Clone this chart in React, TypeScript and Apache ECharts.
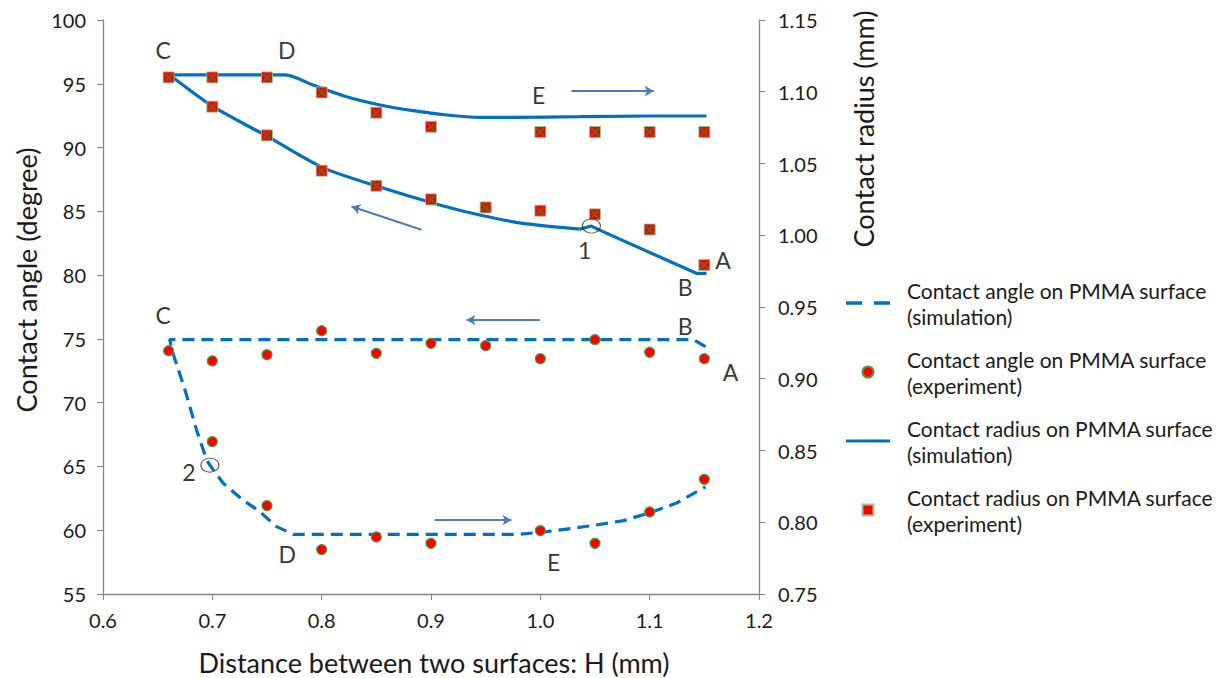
import React, { useEffect, useRef } from 'react';
import * as echarts from 'echarts';

const FONT = 'Lato, "Open Sans", sans-serif';
const SERIES_BLUE = '#0070C0';
const ARROW_BLUE = '#4A7EBB';
const TEXT_COLOR = '#1a1a1a';
const AXIS_GRAY = '#868686';

// Axis ranges / ticks
const X_MIN = 0.6, X_MAX = 1.2, X_STEP = 0.1;
const ANGLE_MIN = 55, ANGLE_MAX = 100, ANGLE_STEP = 5;
const RADIUS_MIN = 0.75, RADIUS_MAX = 1.15, RADIUS_STEP = 0.05;

// Series names (legend)
const NAME_ANGLE_SIM = 'Contact angle on PMMA surface (simulation)';
const NAME_ANGLE_EXP = 'Contact angle on PMMA surface (experiment)';
const NAME_RADIUS_SIM = 'Contact radius on PMMA surface (simulation)';
const NAME_RADIUS_EXP = 'Contact radius on PMMA surface (experiment)';

// Contact angle simulation path: A -> B -> C -> 2 -> D -> E -> end (degree)
const angleSim: number[][] = [
  [1.151, 74.39], [1.14, 74.95], [0.661, 74.95], [0.664, 73.87], [0.675, 71.0],
  [0.6856, 67.86], [0.6948, 65.51], [0.6978, 65.1], [0.71, 63.68], [0.728, 62.37],
  [0.7435, 61.45], [0.7588, 60.28], [0.774, 59.68], [0.981, 59.68], [1.006, 59.89],
  [1.03, 60.15], [1.051, 60.41], [1.076, 60.75], [1.103, 61.45], [1.124, 62.11],
  [1.146, 63.15], [1.151, 63.4],
];

// Contact angle experiment (degree)
const angleExpReceding: number[][] = [
  [0.66, 74.07], [0.70, 73.27], [0.75, 73.76], [0.80, 75.64], [0.85, 73.87], [0.90, 74.65],
  [0.95, 74.47], [1.00, 73.45], [1.05, 74.94], [1.10, 73.95], [1.15, 73.45],
];
const angleExpAdvancing: number[][] = [
  [0.70, 66.94], [0.75, 61.93], [0.80, 58.48], [0.85, 59.47], [0.90, 58.97],
  [1.00, 59.97], [1.05, 58.97], [1.10, 61.43], [1.15, 63.99],
];

// Contact radius simulation, straight part: A -> B -> 1 (mm)
const radiusSimAB1: number[][] = [
  [1.152, 0.9735], [1.1427, 0.9735], [1.0573, 1.0025], [1.0467, 1.0064], [1.036, 1.0043],
];
// Contact radius simulation, receding curve: 1 -> C (mm)
const radiusSimReceding: number[][] = [
  [1.036, 1.0043], [0.9842, 1.0083], [0.9446, 1.0141], [0.908, 1.0211], [0.8502, 1.0343],
  [0.7999, 1.0475], [0.7496, 1.0692], [0.7008, 1.0896], [0.661, 1.1117],
];
// Contact radius simulation, advancing branch: C -> D -> E -> end (mm)
const radiusSimAdvancing: number[][] = [
  [0.661, 1.1117], [0.767, 1.1117],
  [0.7922, 1.1047], [0.8228, 1.0965], [0.8532, 1.0908], [0.8836, 1.0868], [0.9142, 1.0838],
  [0.9446, 1.0822], [0.975, 1.0822], [1.036, 1.0826], [1.097, 1.0831], [1.152, 1.0831],
];

// Contact radius experiment (mm)
const radiusExpAdvancing: number[][] = [
  [0.66, 1.110], [0.70, 1.110], [0.75, 1.110], [0.80, 1.0995], [0.85, 1.0854],
  [0.90, 1.0756], [1.00, 1.0720], [1.05, 1.0720], [1.10, 1.0720], [1.15, 1.0720],
];
const radiusExpReceding: number[][] = [
  [0.70, 1.0896], [0.75, 1.0696], [0.80, 1.045], [0.85, 1.0345], [0.90, 1.025],
  [0.95, 1.0194], [1.00, 1.0171], [1.05, 1.0146], [1.10, 1.004], [1.15, 0.9793],
];

// Annotation letters (in angle-axis coordinates)
const annotations: { name: string; value: number[] }[] = [
  { name: 'C', value: [0.655, 97.65] },
  { name: 'D', value: [0.768, 97.65] },
  { name: 'E', value: [0.9985, 94.12] },
  { name: '1', value: [1.0406, 81.97] },
  { name: 'A', value: [1.167, 81.19] },
  { name: 'B', value: [1.1326, 79.05] },
  { name: 'C', value: [0.655, 76.87] },
  { name: 'B', value: [1.1326, 76.01] },
  { name: 'A', value: [1.174, 72.4] },
  { name: '2', value: [0.6786, 64.54] },
  { name: 'D', value: [0.7685, 58.14] },
  { name: 'E', value: [1.0122, 57.53] },
];

// Marked points 1 and 2 (angle-axis coordinates)
const markedPoints: number[][] = [[1.0467, 83.85], [0.6978, 65.1]];

// Direction arrows: [from, to] in angle-axis coordinates
const arrows: number[][][] = [
  [[1.0284, 94.43], [1.1037, 94.43]],
  [[0.8913, 83.56], [0.8273, 85.38]],
  [[0.9995, 76.48], [0.9324, 76.48]],
  [[0.9035, 60.8], [0.9736, 60.8]],
];

const X_MARK = 'path://M0,0 L1.2,0 L10,8.8 L10,10 L8.8,10 L0,1.2 Z M8.8,0 L10,0 L10,1.2 L1.2,10 L0,10 L0,8.8 Z';
const SQUARE = 'path://M0,0 L10,0 L10,10 L0,10 Z';
const ICON_DASHED = 'path://M0,0 H15 V3.3 H0 Z M26,0 H41 V3.3 H26 Z';
const ICON_SOLID = 'path://M0,0 H45 V3.3 H0 Z';

export default function App() {
  const ref = useRef<HTMLDivElement>(null);

  useEffect(() => {
    if (!ref.current) return;
    const chart = echarts.init(ref.current, null, { renderer: 'svg' });

    const axisLabelBase = { fontSize: 20, color: TEXT_COLOR, fontFamily: FONT };
    const titleFont = `27px ${FONT}`;
    const radiusLine = (data: number[][], smooth: number | boolean) => ({
      name: NAME_RADIUS_SIM, type: 'line', yAxisIndex: 1, data,
      symbol: 'none', z: 2, smooth,
      lineStyle: { color: SERIES_BLUE, width: 3.2 },
      itemStyle: { color: SERIES_BLUE },
    });

    const option: any = {
      animation: false,
      backgroundColor: '#ffffff',
      grid: { left: 103, right: 472, top: 20, bottom: 84, containLabel: false },
      xAxis: {
        type: 'value', min: X_MIN, max: X_MAX, interval: X_STEP,
        axisLine: { show: true, lineStyle: { color: AXIS_GRAY, width: 1.3 } },
        axisTick: { show: true, length: 6, lineStyle: { color: AXIS_GRAY } },
        splitLine: { show: false },
        axisLabel: { ...axisLabelBase, margin: 16, formatter: (v: number) => v.toFixed(1) },
      },
      yAxis: [
        {
          type: 'value', min: ANGLE_MIN, max: ANGLE_MAX, interval: ANGLE_STEP, position: 'left',
          axisLine: { show: true, lineStyle: { color: AXIS_GRAY, width: 1.3 } },
          axisTick: { show: true, length: 6, lineStyle: { color: AXIS_GRAY } },
          splitLine: { show: false },
          axisLabel: { ...axisLabelBase, margin: 17, formatter: (v: number) => String(v) },
        },
        {
          type: 'value', min: RADIUS_MIN, max: RADIUS_MAX, interval: RADIUS_STEP, position: 'right',
          axisLine: { show: true, lineStyle: { color: AXIS_GRAY, width: 1.3 } },
          axisTick: { show: true, length: 6, lineStyle: { color: AXIS_GRAY } },
          splitLine: { show: false },
          axisLabel: { ...axisLabelBase, margin: 19, formatter: (v: number) => v.toFixed(2) },
        },
      ],
      legend: {
        orient: 'vertical',
        left: 841,
        top: 272,
        itemGap: 17,
        itemWidth: 44,
        itemHeight: 11,
        selectedMode: false,
        symbolKeepAspect: true,
        data: [
          { name: NAME_ANGLE_SIM, icon: ICON_DASHED },
          { name: NAME_ANGLE_EXP },
          { name: NAME_RADIUS_SIM, icon: ICON_SOLID },
          { name: NAME_RADIUS_EXP, icon: SQUARE },
        ],
        formatter: (n: string) => n.replace(' (', '\n('),
        textStyle: {
          fontSize: 21, lineHeight: 26, color: TEXT_COLOR, fontFamily: FONT,
          padding: [0, 0, 0, 12],
        },
      },
      graphic: [
        {
          type: 'text', x: 26, y: 280, rotation: Math.PI / 2,
          style: {
            text: 'Contact angle (degree)', font: titleFont, fill: TEXT_COLOR,
            textAlign: 'center', textVerticalAlign: 'middle',
          },
        },
        {
          type: 'text', x: 863, y: 129, rotation: Math.PI / 2,
          style: {
            text: 'Contact radius (mm)', font: titleFont, fill: TEXT_COLOR,
            textAlign: 'center', textVerticalAlign: 'middle',
          },
        },
        {
          type: 'text', x: 434, y: 662,
          style: {
            text: 'Distance between two surfaces: H (mm)', font: titleFont, fill: TEXT_COLOR,
            textAlign: 'center', textVerticalAlign: 'middle',
          },
        },
      ],
      series: [
        {
          name: NAME_ANGLE_SIM, type: 'line', yAxisIndex: 0, data: angleSim,
          symbol: 'none', z: 2,
          lineStyle: { color: SERIES_BLUE, width: 3.2, type: [12, 7] },
          itemStyle: { color: SERIES_BLUE },
        },
        radiusLine(radiusSimAB1, false),
        radiusLine(radiusSimReceding, 0.25),
        radiusLine(radiusSimAdvancing, 0.25),
        {
          name: NAME_ANGLE_EXP, type: 'scatter', yAxisIndex: 0,
          data: [...angleExpReceding, ...angleExpAdvancing],
          symbol: 'circle', symbolSize: 10, z: 3,
          itemStyle: { color: '#FF0000', borderColor: '#3FA03F', borderWidth: 1.2, opacity: 1 },
        },
        {
          name: NAME_RADIUS_EXP, type: 'scatter', yAxisIndex: 1,
          data: [...radiusExpAdvancing, ...radiusExpReceding],
          symbol: SQUARE, symbolSize: 11, symbolKeepAspect: true, z: 3,
          itemStyle: { color: '#FF0000', borderColor: '#8FCF8F', borderWidth: 0.8, opacity: 1 },
        },
        {
          name: 'radius-exp-cross', type: 'scatter', yAxisIndex: 1,
          data: [...radiusExpAdvancing, ...radiusExpReceding],
          symbol: X_MARK, symbolSize: 8, z: 4, silent: true,
          itemStyle: { color: '#3C7F2C', opacity: 1 },
        },
        {
          name: 'marked', type: 'scatter', yAxisIndex: 0, data: markedPoints,
          symbol: 'circle', symbolSize: [18, 14], z: 5, silent: true,
          itemStyle: { color: 'rgba(0,0,0,0)', borderColor: '#222', borderWidth: 1 },
        },
        {
          name: 'annotations', type: 'scatter', yAxisIndex: 0, data: annotations,
          symbolSize: 1, z: 6, silent: true,
          itemStyle: { color: 'rgba(0,0,0,0)' },
          label: {
            show: true, position: 'inside', formatter: '{b}',
            fontSize: 23, color: '#000', fontFamily: FONT,
          },
          markLine: {
            silent: true, symbol: ['none', 'arrow'], symbolSize: [8, 9],
            label: { show: false },
            lineStyle: { color: ARROW_BLUE, width: 2, type: 'solid' },
            data: arrows.map(([a, b]) => [{ coord: a }, { coord: b }]),
          },
        },
      ],
    };

    chart.setOption(option);
    return () => chart.dispose();
  }, []);

  return (
    <div
      ref={ref}
      style={{ position: 'fixed', left: 0, top: 0, width: 1231, height: 678, background: '#fff' }}
    />
  );
}
